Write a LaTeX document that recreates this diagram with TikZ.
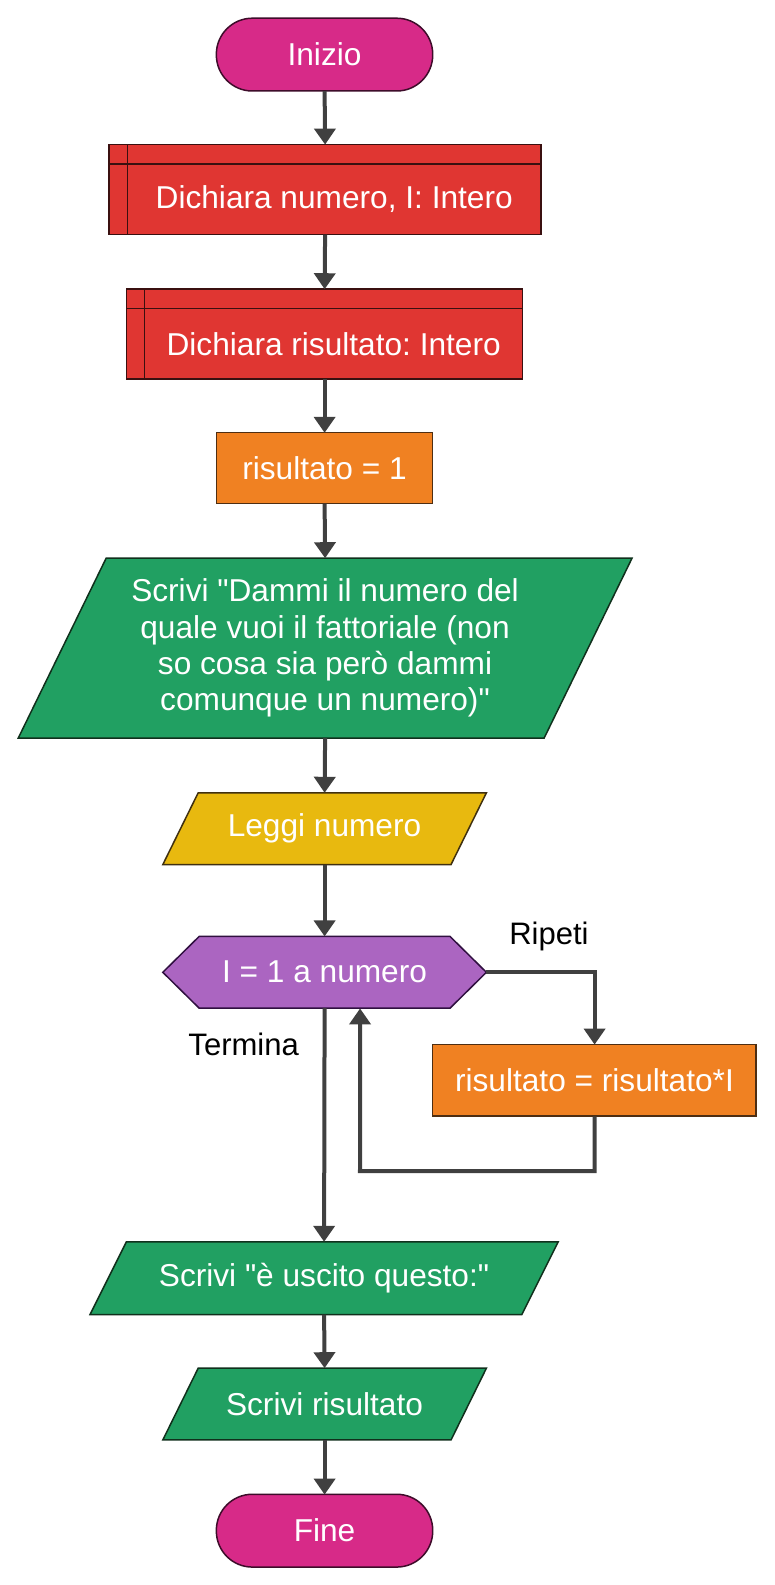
\documentclass[tikz,border=0pt]{standalone}
\usepackage{fontspec}
\setmainfont{Liberation Sans}[Ligatures=TeXOff]
\frenchspacing
\usetikzlibrary{arrows.meta,calc}
\pgfdeclarelayer{bg}
\pgfdeclarelayer{paper}
\pgfsetlayers{paper,bg,main}
\definecolor{cpink}{HTML}{D72A88}
\definecolor{bpink}{HTML}{3E0C2A}
\definecolor{cred}{HTML}{E03632}
\definecolor{bred}{HTML}{3A1010}
\definecolor{corange}{HTML}{F08122}
\definecolor{borange}{HTML}{4E2E12}
\definecolor{cgreen}{HTML}{21A062}
\definecolor{bgreen}{HTML}{10301C}
\definecolor{cyellow}{HTML}{E8B90F}
\definecolor{byellow}{HTML}{403010}
\definecolor{cpurple}{HTML}{AB65C1}
\definecolor{bpurple}{HTML}{301040}
\definecolor{linec}{HTML}{404040}
\begin{document}
\begin{tikzpicture}[x=1pt,y=-1pt,
  base/.style={inner sep=0pt, outer sep=0pt, text=white, font=\fontsize{31.3}{36}\selectfont, align=center},
  lbl/.style={inner sep=0pt, outer sep=0pt, text=black, font=\fontsize{30.7}{36}\selectfont},
  edge/.style={line width=1.5pt},
  arr/.style={draw=linec, line width=4pt, -{Triangle[length=16pt,width=21pt]}}]
\begin{pgfonlayer}{paper}
\fill[white] (0,0) rectangle (775,1585);
\end{pgfonlayer}
\useasboundingbox (0,0) rectangle (775,1585);
\begin{scope}[scale=1.011, transform shape]

% Start
\node[base, edge, minimum width=214pt, minimum height=72pt, fill=cpink, draw=bpink, rounded corners=36pt] (start) at (321,54) {Inizio};

% Declarations
\node[base, edge, minimum width=427pt, minimum height=89pt, fill=cred, draw=bred] (d1) at (321.5,187.5) {};
\draw[edge, bred] ($(d1.north west)+(18,0)$) -- ($(d1.south west)+(18,0)$);
\draw[edge, bred] ($(d1.north west)+(0,19)$) -- ($(d1.north east)+(0,19)$);
\node[base] (d1t) at ($(d1.center)+(9,9.5)$) {Dichiara numero, I: Intero};

\node[base, edge, minimum width=392pt, minimum height=89pt, fill=cred, draw=bred] (d2) at (321,330.5) {};
\draw[edge, bred] ($(d2.north west)+(18,0)$) -- ($(d2.south west)+(18,0)$);
\draw[edge, bred] ($(d2.north west)+(0,19)$) -- ($(d2.north east)+(0,19)$);
\node[base] (d2t) at ($(d2.center)+(9,9.5)$) {Dichiara risultato: Intero};

% Assignment
\node[base, edge, minimum width=214pt, minimum height=70pt, fill=corange, draw=borange] (r1) at (321,463) {risultato = 1};

% Output 1
\node[base, minimum width=607pt, minimum height=178pt] (w1) at (321.5,641) {Scrivi "Dammi il numero del\\quale vuoi il fattoriale (non\\so cosa sia però dammi\\comunque un numero)"};

% Input
\node[base, minimum width=320pt, minimum height=71pt] (read) at (321,819.5) {Leggi numero};

% Loop
\node[base, minimum width=320pt, minimum height=71pt] (hex) at (321,961.5) {I = 1 a numero};
\node[base, edge, minimum width=320pt, minimum height=71pt, fill=corange, draw=borange] (body) at (588,1068.5) {risultato = risultato*I};
\node[lbl] (ripeti) at (543,926) {Ripeti};
\node[lbl] (termina) at (241,1033) {Termina};

% Output 2 and 3
\node[base, minimum width=463pt, minimum height=72pt] (w2) at (320.5,1264) {Scrivi "è uscito questo:"};
\node[base, minimum width=320pt, minimum height=71pt] (w3) at (321,1388.5) {Scrivi risultato};

% End
\node[base, edge, minimum width=214pt, minimum height=72pt, fill=cpink, draw=bpink, rounded corners=36pt] (end) at (321,1514) {Fine};

\begin{pgfonlayer}{bg}
\filldraw[edge, fill=cgreen, draw=bgreen] ($(w1.north west)+(87,0)$) -- (w1.north east) -- ($(w1.south east)+(-87,0)$) -- (w1.south west) -- cycle;
\filldraw[edge, fill=cyellow, draw=byellow] ($(read.north west)+(35,0)$) -- (read.north east) -- ($(read.south east)+(-35,0)$) -- (read.south west) -- cycle;
\filldraw[edge, fill=cpurple, draw=bpurple] (hex.west) -- ($(hex.north west)+(36,0)$) -- ($(hex.north east)+(-36,0)$) -- (hex.east) -- ($(hex.south east)+(-36,0)$) -- ($(hex.south west)+(36,0)$) -- cycle;
\filldraw[edge, fill=cgreen, draw=bgreen] ($(w2.north west)+(36,0)$) -- (w2.north east) -- ($(w2.south east)+(-36,0)$) -- (w2.south west) -- cycle;
\filldraw[edge, fill=cgreen, draw=bgreen] ($(w3.north west)+(35,0)$) -- (w3.north east) -- ($(w3.south east)+(-35,0)$) -- (w3.south west) -- cycle;
\end{pgfonlayer}

% Connectors
\draw[arr] (start.south) -- (d1.north);
\draw[arr] (d1.south) -- (d2.north);
\draw[arr] (d2.south) -- (r1.north);
\draw[arr] (r1.south) -- (w1.north);
\draw[arr] (w1.south) -- (read.north);
\draw[arr] (read.south) -- (hex.north);
\draw[arr] (hex.east) -| (body.north);
\coordinate (lp) at (356,1158);
\coordinate (hexin) at ($(hex.south)+(35,0)$);
\draw[arr] (body.south) |- (lp) -- (hexin);
\draw[arr] (hex.south) -- (w2.north);
\draw[arr] (w2.south) -- (w3.north);
\draw[arr] (w3.south) -- (end.north);
\end{scope}
\end{tikzpicture}
\end{document}
